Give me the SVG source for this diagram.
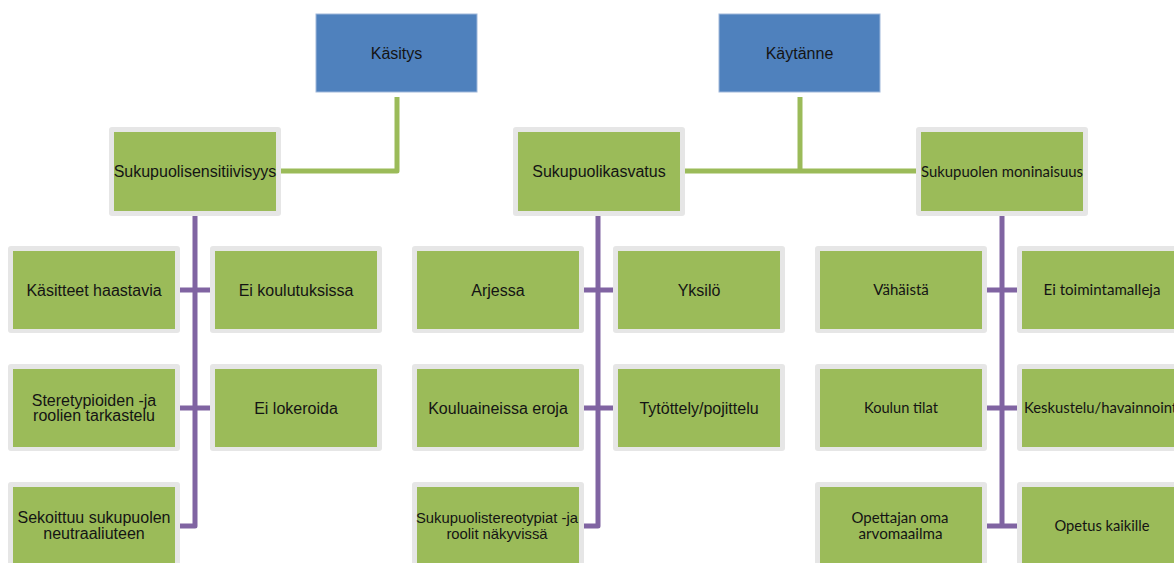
<svg xmlns="http://www.w3.org/2000/svg" width="1174" height="563" viewBox="0 0 1174 563">
<style>
.top{fill:#4f81bd;stroke:#9fb7da;stroke-width:1}
.frame{fill:#e6e6e6}
.box{fill:#9bbb59}
.t{font-family:"Liberation Sans",Arial,sans-serif;font-size:16px;fill:#141414;text-anchor:middle}
.c{font-family:Lato,"Liberation Sans",sans-serif;font-size:15px;fill:#141414;text-anchor:middle}
.g{fill:none;stroke:#9bbb59;stroke-width:5;stroke-linejoin:round}
.p{fill:none;stroke:#8064a2;stroke-width:5;stroke-linejoin:round}
</style>
<rect width="1174" height="563" fill="#ffffff"/>
<g id="connectors">
<path class="g" d="M397,97 V171 H281"/>
<path class="g" d="M800,97 V171"/>
<path class="g" d="M684,171 H916"/>
<path class="p" d="M195,216 V526 H180"/>
<path class="p" d="M180,290 H210 M180,408 H210"/>
<path class="p" d="M598,216 V526 H583"/>
<path class="p" d="M583,290 H613 M583,408 H613"/>
<path class="p" d="M1002,216 V526"/>
<path class="p" d="M986,290 H1017 M986,408 H1017 M986,526 H1017"/>
</g>
<g id="kasitys"><rect class="top" x="316" y="14" width="161" height="78"/><text class="t" x="396.5" y="58.5">Käsitys</text></g>
<g id="kaytanne"><rect class="top" x="719" y="14" width="161" height="78"/><text class="t" x="799.5" y="58.5">Käytänne</text></g>

<g id="sukupuolisensitiivisyys"><rect class="frame" x="109" y="127" width="172" height="89" rx="3"/><rect class="box" x="114" y="132" width="162" height="79"/><text class="t" x="195" y="177">Sukupuolisensitiivisyys</text></g>
<g id="sukupuolikasvatus"><rect class="frame" x="513" y="127" width="172" height="89" rx="3"/><rect class="box" x="518" y="132" width="162" height="79"/><text class="t" x="599" y="177">Sukupuolikasvatus</text></g>
<g id="sukupuolen-moninaisuus"><rect class="frame" x="916" y="127" width="172" height="89" rx="3"/><rect class="box" x="921" y="132" width="162" height="79"/><text class="c" x="1002" y="176.5" textLength="162" lengthAdjust="spacingAndGlyphs">Sukupuolen moninaisuus</text></g>

<g id="kasitteet-haastavia"><rect class="frame" x="8" y="246" width="172" height="87" rx="3"/><rect class="box" x="13" y="251" width="162" height="78"/><text class="t" x="94" y="295.5">Käsitteet haastavia</text></g>
<g id="ei-koulutuksissa"><rect class="frame" x="210" y="246" width="172" height="87" rx="3"/><rect class="box" x="215" y="251" width="162" height="78"/><text class="t" x="296" y="295.5">Ei koulutuksissa</text></g>
<g id="steretypioiden"><rect class="frame" x="8" y="364" width="172" height="87" rx="3"/><rect class="box" x="13" y="369" width="162" height="78"/><text class="t" x="94" y="406">Steretypioiden -ja</text><text class="t" x="94" y="421">roolien tarkastelu</text></g>
<g id="ei-lokeroida"><rect class="frame" x="210" y="364" width="172" height="87" rx="3"/><rect class="box" x="215" y="369" width="162" height="78"/><text class="t" x="296" y="413.5">Ei lokeroida</text></g>
<g id="sekoittuu"><rect class="frame" x="8" y="482" width="172" height="87" rx="3"/><rect class="box" x="13" y="487" width="162" height="78"/><text class="t" x="94" y="523">Sekoittuu sukupuolen</text><text class="t" x="94" y="538.5">neutraaliuteen</text></g>

<g id="arjessa"><rect class="frame" x="412" y="246" width="172" height="87" rx="3"/><rect class="box" x="417" y="251" width="162" height="78"/><text class="t" x="498" y="295.5">Arjessa</text></g>
<g id="yksilo"><rect class="frame" x="613" y="246" width="172" height="87" rx="3"/><rect class="box" x="618" y="251" width="162" height="78"/><text class="t" x="699" y="295.5">Yksilö</text></g>
<g id="kouluaineissa"><rect class="frame" x="412" y="364" width="172" height="87" rx="3"/><rect class="box" x="417" y="369" width="162" height="78"/><text class="t" x="498" y="413.5">Kouluaineissa eroja</text></g>
<g id="tytottely"><rect class="frame" x="613" y="364" width="172" height="87" rx="3"/><rect class="box" x="618" y="369" width="162" height="78"/><text class="t" x="699" y="413.5">Tytöttely/pojittelu</text></g>
<g id="sukupuolistereotypiat"><rect class="frame" x="412" y="482" width="172" height="87" rx="3"/><rect class="box" x="417" y="487" width="162" height="78"/><text class="t" x="497" y="523" style="font-size:14.8px">Sukupuolistereotypiat -ja</text><text class="t" x="497" y="538.5" style="font-size:14.8px">roolit näkyvissä</text></g>

<g id="vahaista"><rect class="frame" x="815" y="246" width="172" height="87" rx="3"/><rect class="box" x="820" y="251" width="162" height="78"/><text class="c" x="901" y="295" textLength="55.5" lengthAdjust="spacingAndGlyphs">Vähäistä</text></g>
<g id="ei-toimintamalleja"><rect class="frame" x="1017" y="246" width="172" height="87" rx="3"/><rect class="box" x="1022" y="251" width="162" height="78"/><text class="c" x="1102" y="295" textLength="117" lengthAdjust="spacingAndGlyphs">Ei toimintamalleja</text></g>
<g id="koulun-tilat"><rect class="frame" x="815" y="364" width="172" height="87" rx="3"/><rect class="box" x="820" y="369" width="162" height="78"/><text class="c" x="901" y="413" textLength="74" lengthAdjust="spacingAndGlyphs">Koulun tilat</text></g>
<g id="keskustelu"><rect class="frame" x="1017" y="364" width="172" height="87" rx="3"/><rect class="box" x="1022" y="369" width="162" height="78"/><text class="c" x="1102.5" y="413" textLength="157" lengthAdjust="spacingAndGlyphs">Keskustelu/havainnointi</text></g>
<g id="opettajan-oma"><rect class="frame" x="815" y="482" width="172" height="87" rx="3"/><rect class="box" x="820" y="487" width="162" height="78"/><text class="c" x="900" y="522.5" textLength="97" lengthAdjust="spacingAndGlyphs">Opettajan oma</text><text class="c" x="900.5" y="539" textLength="84" lengthAdjust="spacingAndGlyphs">arvomaailma</text></g>
<g id="opetus-kaikille"><rect class="frame" x="1017" y="482" width="172" height="87" rx="3"/><rect class="box" x="1022" y="487" width="162" height="78"/><text class="c" x="1102" y="531" textLength="95" lengthAdjust="spacingAndGlyphs">Opetus kaikille</text></g>
</svg>
